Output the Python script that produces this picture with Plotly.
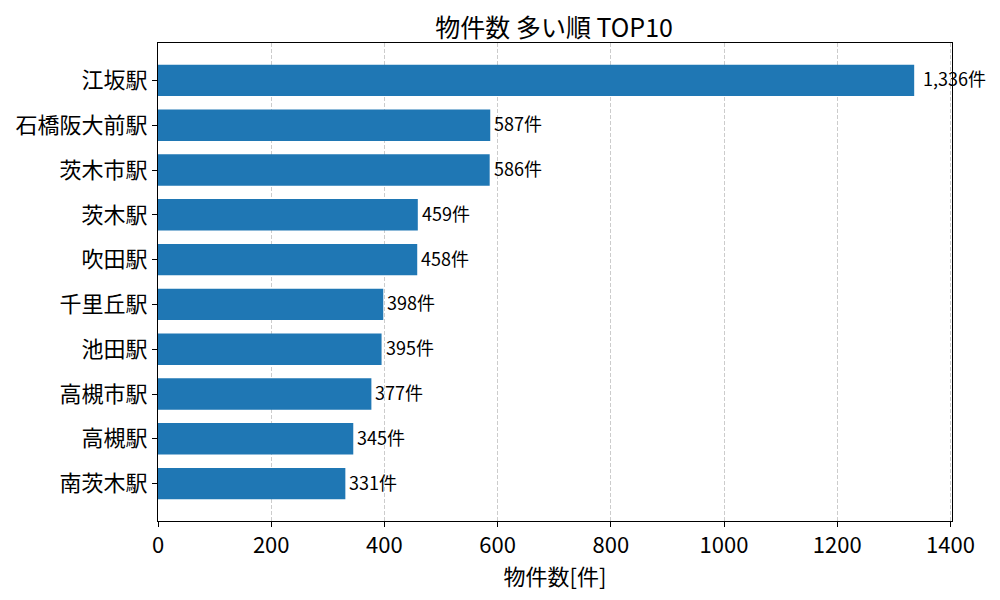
import plotly.graph_objects as go

stations = ["江坂駅", "石橋阪大前駅", "茨木市駅", "茨木駅", "吹田駅",
            "千里丘駅", "池田駅", "高槻市駅", "高槻駅", "南茨木駅"]
counts = [1336, 587, 586, 459, 458, 398, 395, 377, 345, 331]
x_ticks = [0, 200, 400, 600, 800, 1000, 1200, 1400]

FONT = "Noto Sans CJK JP"

fig = go.Figure()
fig.add_trace(go.Bar(
    y=stations, x=counts, orientation="h",
    marker=dict(color="#1f77b4", line=dict(width=0)),
    width=0.7,
))

for s, c in zip(stations, counts):
    fig.add_annotation(
        x=c, y=s, text=f"{c:,}件", showarrow=False,
        xanchor="left", yanchor="middle", xshift=7 if c > 1000 else 2, yshift=2,
        font=dict(family=FONT, size=18, color="black"),
    )

fig.update_layout(
    width=984, height=584,
    margin=dict(l=150, r=40, t=35, b=71),
    paper_bgcolor="white", plot_bgcolor="white",
    showlegend=False,
    font=dict(family=FONT, color="black"),
    title=dict(text="物件数 多い順 TOP10", x=0.555, xanchor="center",
               yref="container", y=0.9645, yanchor="middle",
               font=dict(family=FONT, size=25), automargin=False),
)
fig.update_xaxes(
    range=[0, max(counts) * 1.05],
    tickvals=x_ticks, ticks="outside", ticklen=5, tickcolor="black",
    tickfont=dict(family=FONT, size=22),
    showgrid=True, gridcolor="#cccccc", griddash="4px,2px", gridwidth=1,
    showline=True, linecolor="black", linewidth=1, mirror=True,
    zeroline=False, automargin=False,
    title=dict(text="物件数[件]", font=dict(family=FONT, size=22), standoff=0),
)
fig.update_yaxes(
    range=[9.835, -0.835],
    ticks="outside", ticklen=5, tickcolor="black",
    tickfont=dict(family=FONT, size=22),
    showgrid=False, automargin=False,
    showline=True, linecolor="black", linewidth=1, mirror=True,
)

fig.write_html("out.html")
